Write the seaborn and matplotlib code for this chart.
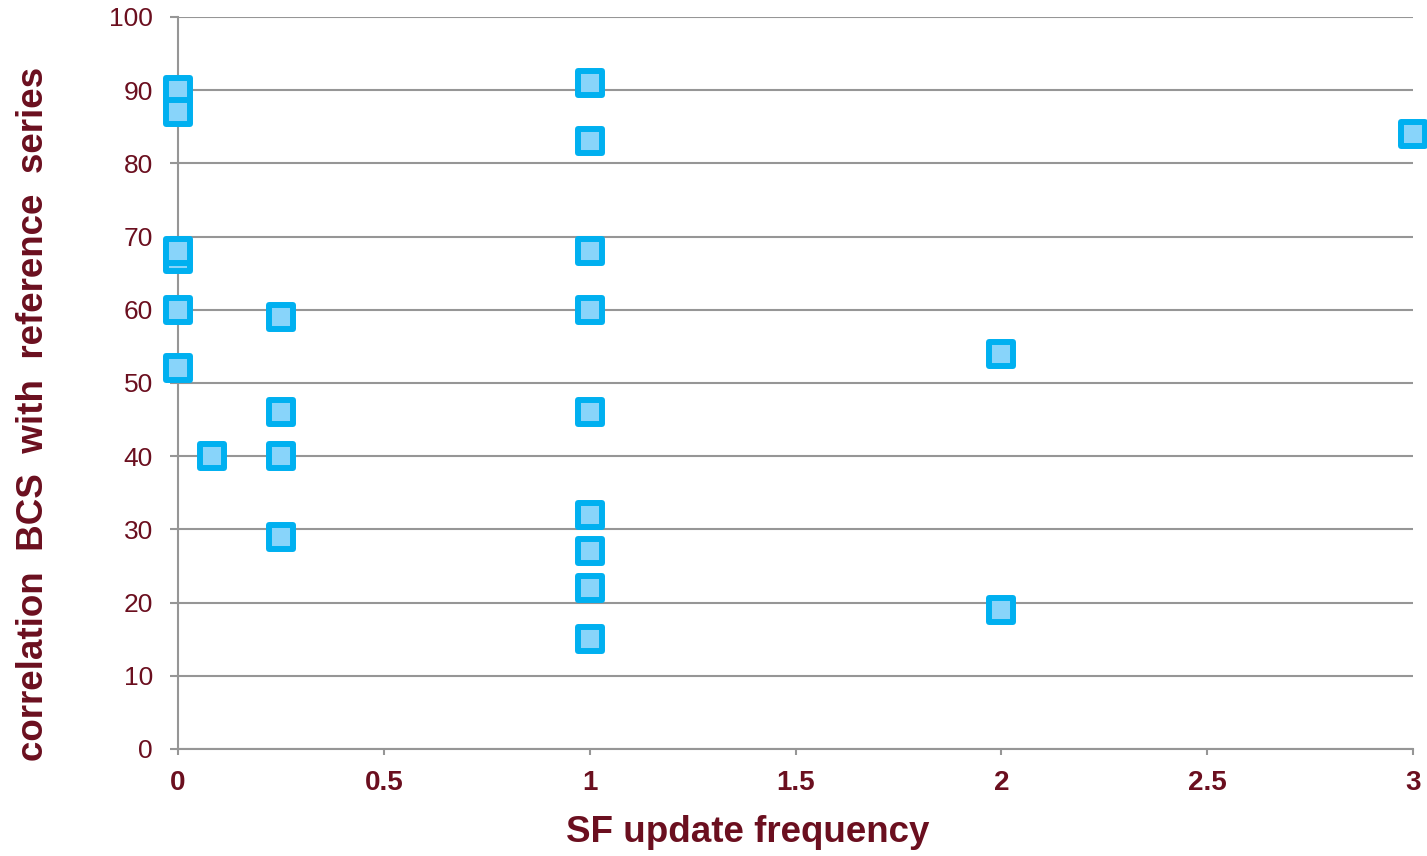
import matplotlib
matplotlib.use("Agg")
import matplotlib.pyplot as plt
from matplotlib.markers import MarkerStyle
import seaborn as sns
import pandas as pd

# data
update_freq = [0, 0, 0, 0, 0, 0,
               1/12,
               0.25, 0.25, 0.25, 0.25,
               1, 1, 1, 1, 1, 1, 1, 1, 1,
               2, 2,
               3]
correlation = [90, 87, 67, 68, 60, 52,
               40,
               59, 46, 40, 29,
               91, 83, 68, 60, 46, 32, 27, 22, 15,
               54, 19,
               84]
x_ticks = [0, 0.5, 1, 1.5, 2, 2.5, 3]
x_tick_labels = ["0", "0.5", "1", "1.5", "2", "2.5", "3"]
y_ticks = list(range(0, 101, 10))

df = pd.DataFrame({"freq": update_freq, "corr": correlation})

sns.set_style("white")
plt.rcParams['font.family'] = ['Liberation Sans', 'DejaVu Sans']
text_col = "#6B0F1F"
grid_col = "#969696"

fig = plt.figure(figsize=(14.27, 8.56), dpi=100)
ax = fig.add_axes([178/1427, 1 - 749/856, (1413-178)/1427, (749-17)/856])

sq = MarkerStyle("s", joinstyle="round")
sns.scatterplot(data=df, x="freq", y="corr", ax=ax, marker=sq, s=290,
                color="#88D4FA", edgecolor="#00B0F0", linewidth=4.3,
                clip_on=False, zorder=3, legend=False)

ax.set_xlim(0, 3)
ax.set_ylim(0, 100)
ax.set_xticks(x_ticks)
ax.set_xticklabels(x_tick_labels, fontsize=20, fontweight="bold", color=text_col)
ax.set_yticks(y_ticks)
ax.set_yticklabels([str(v) for v in y_ticks], fontsize=19, color=text_col)
ax.yaxis.grid(True, color=grid_col, linewidth=1.5)
ax.set_axisbelow(True)

for side in ["top", "right"]:
    ax.spines[side].set_visible(False)
for side in ["left", "bottom"]:
    ax.spines[side].set_color(grid_col)
    ax.spines[side].set_linewidth(1.5)
ax.tick_params(axis="y", length=6, width=1.5, color=grid_col, pad=12, direction="out", left=True)
ax.tick_params(axis="x", length=4.3, width=1.5, color=grid_col, pad=11, direction="out", bottom=True)

ax.set_xlabel("SF update frequency", fontsize=26.5, fontweight="bold", color=text_col)
ax.set_ylabel("correlation  BCS  with  reference  series", fontsize=26.5, fontweight="bold",
              color=text_col)
# label positions in axes coords
ax.xaxis.set_label_coords((748 - 178) / (1413 - 178), -(833 - 749) / (749 - 17))
ax.yaxis.set_label_coords(-(178 - 34) / (1413 - 178), (749 - 414) / (749 - 17))
ax.xaxis.label.set_va("center")
ax.yaxis.label.set_va("center")

fig.savefig("out.png", dpi=100)
